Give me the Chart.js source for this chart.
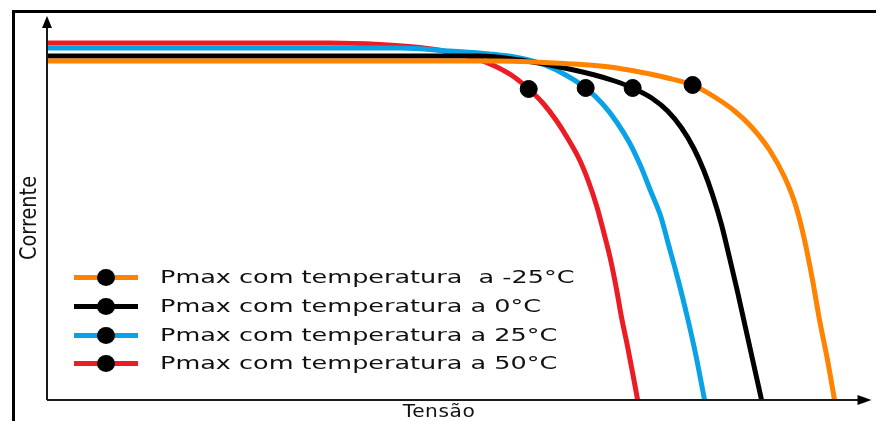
<!DOCTYPE html>
<html>
<head>
<meta charset="utf-8">
<script src="https://cdn.jsdelivr.net/npm/chart.js@4.4.0/dist/chart.umd.min.js"></script>
<style>
    html, body {
        margin: 0;
        padding: 0;
        background: #fff;
        overflow: hidden;
    }
    body {
        width: 876px;
        height: 421px;
        position: relative;
        font-family: "DejaVu Sans", sans-serif;
    }
    #frame {
        position: absolute;
        left: 12px;
        top: 10px;
        width: 900px;
        height: 440px;
        border: 3px solid #000;
    }
    #wrap {
        position: absolute;
        left: 0;
        top: 0;
        width: 876px;
        height: 421px;
    }
    .axis-title {
        position: absolute;
        color: #111;
        white-space: nowrap;
    }
    #yTitle {
        left: 28px;
        top: 218px;
        font-size: 23px;
        transform: translate(-50%, -50%) rotate(-90deg) scaleX(0.84);
    }
    #xTitle {
        left: 439px;
        top: 400px;
        font-size: 18px;
        transform: translateX(-50%) scaleX(1.12);
        letter-spacing: 0.5px;
    }
    #legend {
        position: absolute;
        left: 0;
        top: 0;
    }
    .legend-row {
        position: absolute;
        left: 74px;
        height: 30px;
        display: flex;
        align-items: center;
    }
    .legend-mark {
        position: relative;
        width: 64px;
        height: 30px;
    }
    .legend-line {
        position: absolute;
        left: 0;
        top: 12.5px;
        width: 64px;
        height: 5px;
    }
    .legend-dot {
        position: absolute;
        left: 23px;
        top: 6.5px;
        width: 18px;
        height: 17px;
        border-radius: 50%;
        background: #000;
    }
    .legend-text {
        position: absolute;
        left: 86px;
        top: 4px;
        font-size: 17px;
        line-height: 22px;
        color: #111;
        white-space: pre;
        transform: scaleX(1.5);
        transform-origin: left center;
    }
</style>
</head>
<body>
<div id="frame"></div>
<div id="wrap"><canvas id="ivChart" width="876" height="421"></canvas></div>
<div class="axis-title" id="yTitle">Corrente</div>
<div class="axis-title" id="xTitle">Tensão</div>
<div id="legend"></div>
<script>
// Legend labels and colours (order as in the legend)
const seriesLabels = [
    'Pmax com temperatura  a -25°C',
    'Pmax com temperatura a 0°C',
    'Pmax com temperatura a 25°C',
    'Pmax com temperatura a 50°C'
];
const seriesColors = ['#ff8200', '#000000', '#0aa2e6', '#ec1c24'];

// I-V curves, voltage (V) and current (A)
const voltsM25 = [0, 22.65, 26.3, 28.15, 29.65, 31.05, 32.3, 33.4, 34.4, 35.25, 36.15, 36.9, 37.45, 37.9, 38.3, 38.65, 39.05, 39.4];
const ampsM25  = [8.475, 8.475, 8.4, 8.325, 8.2, 8.05, 7.875, 7.575, 7.225, 6.825, 6.25, 5.575, 4.875, 4.0, 3.0, 2.0, 1.0, 0];

const volts0 = [0, 21.65, 23.65, 25.4, 27.4, 28.4, 29.3, 30.25, 31.05, 31.75, 32.35, 32.85, 33.3, 33.75, 34.15, 34.55, 34.95, 35.35, 35.75];
const amps0  = [8.6, 8.6, 8.5, 8.35, 8.125, 7.975, 7.8, 7.55, 7.225, 6.8, 6.3, 5.75, 5.125, 4.375, 3.55, 2.7, 1.8, 0.9, 0];

const volts25 = [0, 17.65, 20.15, 22.15, 23.65, 24.9, 25.95, 26.95, 27.8, 28.5, 29.15, 29.7, 30.2, 30.7, 31.1, 31.55, 32.0, 32.45, 32.9];
const amps25  = [8.8, 8.8, 8.725, 8.65, 8.55, 8.375, 8.125, 7.8, 7.4, 6.95, 6.425, 5.85, 5.225, 4.6, 3.875, 3.05, 2.15, 1.15, 0];

const volts50 = [0, 14.15, 16.65, 18.65, 20.15, 21.4, 22.4, 23.3, 24.1, 24.85, 25.5, 26.1, 26.65, 27.1, 27.5, 27.85, 28.2, 28.5, 28.75, 29.05, 29.3, 29.55];
const amps50  = [8.925, 8.925, 8.8875, 8.8125, 8.7, 8.55, 8.35, 8.1, 7.775, 7.4, 6.975, 6.5, 6.0, 5.45, 4.85, 4.2, 3.5, 2.75, 2.05, 1.325, 0.675, 0];

// Maximum power points
const mppVolts = [32.3, 29.3, 26.95, 24.1];
const mppAmps  = [7.875, 7.8, 7.8, 7.775];

// Axis ranges
const voltMax = 41;
const ampMax = 9.5;

function toPoints(xs, ys) {
    return xs.map((x, i) => ({ x: x, y: ys[i] }));
}

function curveDataset(label, color, xs, ys, order) {
    return {
        label: label,
        data: toPoints(xs, ys),
        borderColor: color,
        backgroundColor: color,
        borderWidth: 5,
        pointRadius: 0,
        cubicInterpolationMode: 'monotone',
        fill: false,
        order: order
    };
}

// Draw both axis lines with arrow heads
const axisArrows = {
    id: 'axisArrows',
    afterDatasetsDraw(chart) {
        const ctx = chart.ctx;
        const a = chart.chartArea;
        ctx.save();
        ctx.strokeStyle = '#1a1a1a';
        ctx.fillStyle = '#000';
        ctx.lineWidth = 2;
        ctx.beginPath();
        ctx.moveTo(a.left, a.bottom);
        ctx.lineTo(a.left, a.top - 2);
        ctx.moveTo(a.left, a.bottom);
        ctx.lineTo(a.right - 6, a.bottom);
        ctx.stroke();

        ctx.beginPath();
        ctx.moveTo(a.left, a.top - 4);
        ctx.lineTo(a.left - 5, a.top + 8);
        ctx.lineTo(a.left + 5, a.top + 8);
        ctx.closePath();
        ctx.fill();

        ctx.beginPath();
        ctx.moveTo(a.right + 5, a.bottom);
        ctx.lineTo(a.right - 9, a.bottom - 5);
        ctx.lineTo(a.right - 9, a.bottom + 5);
        ctx.closePath();
        ctx.fill();
        ctx.restore();
    }
};

function buildLegend() {
    const legend = document.getElementById('legend');
    const rowTops = [262, 291, 320, 348];
    seriesLabels.forEach((label, i) => {
        const row = document.createElement('div');
        row.className = 'legend-row';
        row.style.top = rowTops[i] + 'px';
        row.innerHTML =
            '<div class="legend-mark">' +
            '<div class="legend-line" style="background:' + seriesColors[i] + '"></div>' +
            '<div class="legend-dot"></div>' +
            '</div>' +
            '<div class="legend-text"></div>';
        row.querySelector('.legend-text').textContent = label;
        legend.appendChild(row);
    });
}

document.addEventListener('DOMContentLoaded', function() {
    buildLegend();

    const ctx = document.getElementById('ivChart');
    new Chart(ctx, {
        type: 'line',
        data: {
            datasets: [
                {
                    type: 'scatter',
                    label: 'Pmax',
                    data: toPoints(mppVolts, mppAmps),
                    backgroundColor: '#000',
                    borderColor: '#000',
                    pointRadius: 8.5,
                    pointHoverRadius: 8.5,
                    order: 0
                },
                curveDataset(seriesLabels[0], seriesColors[0], voltsM25, ampsM25, 1),
                curveDataset(seriesLabels[1], seriesColors[1], volts0, amps0, 2),
                curveDataset(seriesLabels[2], seriesColors[2], volts25, amps25, 3),
                curveDataset(seriesLabels[3], seriesColors[3], volts50, amps50, 4)
            ]
        },
        options: {
            responsive: false,
            animation: false,
            layout: {
                padding: { left: 47, top: 20, right: 9, bottom: 21 }
            },
            plugins: {
                legend: { display: false },
                tooltip: { enabled: false }
            },
            scales: {
                x: { type: 'linear', min: 0, max: voltMax, display: false },
                y: { type: 'linear', min: 0, max: ampMax, display: false }
            }
        },
        plugins: [axisArrows]
    });
});
</script>
</body>
</html>
